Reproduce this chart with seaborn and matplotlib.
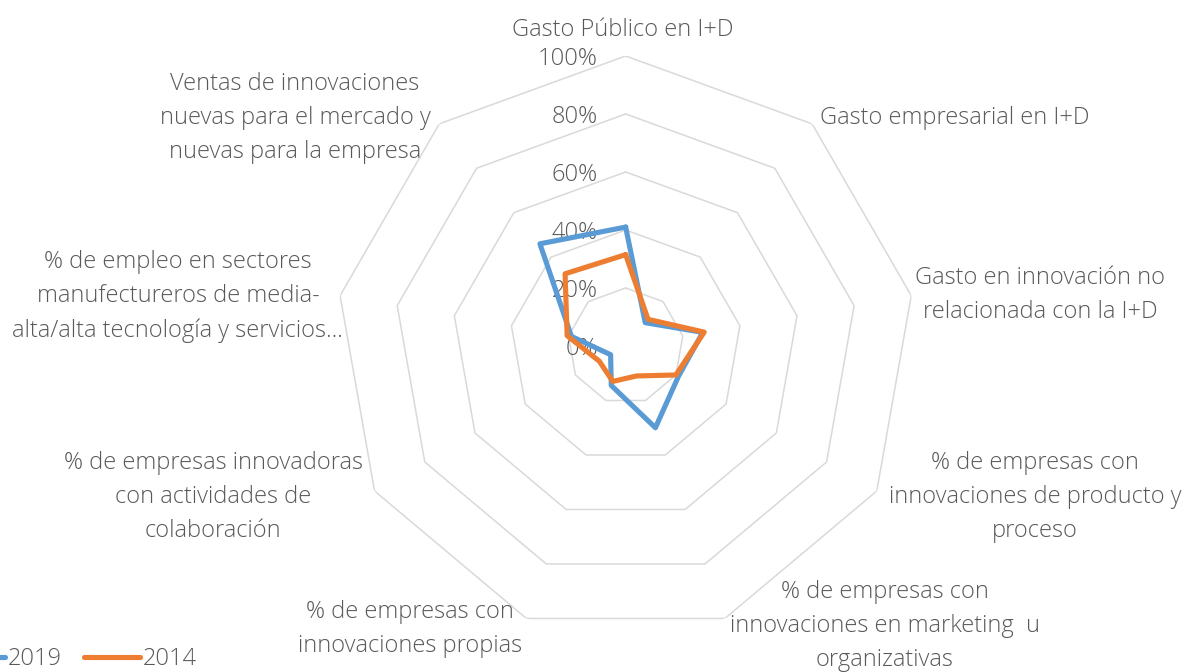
import numpy as np
import pandas as pd
import matplotlib
matplotlib.use("Agg")
import matplotlib.pyplot as plt
from matplotlib.lines import Line2D
import seaborn as sns

# Indicator names (one per radar axis, clockwise from the top)
categories = [
    "Gasto Público en I+D",
    "Gasto empresarial en I+D",
    "Gasto en innovación no\nrelacionada con la I+D",
    "% de empresas con\ninnovaciones de producto y\nproceso",
    "% de empresas con\ninnovaciones en marketing  u\norganizativas",
    "% de empresas con\ninnovaciones propias",
    "% de empresas innovadoras\ncon actividades de\ncolaboración",
    "% de empleo en sectores\nmanufectureros de media-\nalta/alta tecnología y servicios…",
    "Ventas de innovaciones\nnuevas para el mercado y\nnuevas para la empresa",
]

# Values in percent
values_2019 = [41, 10.5, 27, 21, 30, 14.5, 6, 19, 46]
values_2014 = [31.5, 12, 27.5, 20, 11, 13, 10.5, 20.5, 32.5]

series_names = ["2019", "2014"]
series_colors = ["#5B9BD5", "#ED7D31"]

ring_levels = [20, 40, 60, 80, 100]
ring_labels = ["0%", "20%", "40%", "60%", "80%", "100%"]

sns.set_theme(style="white")
plt.rcParams["font.family"] = ["Open Sans", "DejaVu Sans"]
TEXT = "#595959"
FONT_W = "light"
FS = 17

n = len(categories)
theta = np.linspace(0, 2 * np.pi, n, endpoint=False)
theta_closed = np.append(theta, theta[0])

rows = []
for name, vals in zip(series_names, [values_2019, values_2014]):
    closed = list(vals) + [vals[0]]
    for t, v in zip(theta_closed, closed):
        rows.append({"theta": t, "value": v, "serie": name})
df = pd.DataFrame(rows)

fig = plt.figure(figsize=(11.87, 6.72), dpi=100)
ax = fig.add_axes([0.2828, 0.0536, 0.4886, 0.8631], projection="polar")
ax.set_theta_offset(np.pi / 2)
ax.set_theta_direction(-1)
ax.set_ylim(0, 100)
ax.grid(False)
ax.spines["polar"].set_visible(False)
ax.set_xticks([])
ax.set_yticks([])
ax.set_facecolor("white")

# Polygonal gridlines
for lvl in ring_levels:
    ax.plot(theta_closed, [lvl] * len(theta_closed), color="#D9D9D9",
            lw=1.1, zorder=1)

sns.lineplot(data=df, x="theta", y="value", hue="serie", sort=False,
             estimator=None, palette=dict(zip(series_names, series_colors)),
             linewidth=3.7, legend=False, ax=ax, zorder=3)
ax.set_xlabel("")
ax.set_ylabel("")

# Radial value labels along the vertical axis
for lvl, lab in zip([0] + ring_levels, ring_labels):
    ax.annotate(lab, xy=(0, lvl), xytext=(-20, -2.5), textcoords="offset points",
                ha="right", va="center", fontsize=FS, color=TEXT,
                fontweight=FONT_W, zorder=2)

# Category labels (axes-fraction positions)
label_pos = [
    (0.4953, 1.045), (1.0674, 0.893), (1.2150, 0.588),
    (1.2057, 0.240), (0.9470, 0.017), (0.1280, 0.012),
    (-0.2112, 0.240), (-0.2720, 0.585), (-0.0702, 0.893),
]
for lab, (x, y) in zip(categories, label_pos):
    ax.text(x, y, lab, transform=ax.transAxes, ha="center", va="center",
            multialignment="center", fontsize=FS, color=TEXT,
            fontweight=FONT_W, linespacing=1.55, clip_on=False)

handles = [Line2D([0], [0], color=c, lw=3.7, solid_capstyle="round")
           for c in series_colors]
fig.legend(handles, series_names, loc="center left",
           bbox_to_anchor=(-0.043, 0.019), ncol=2, frameon=False,
           handlelength=2.37, handletextpad=0.13,
           columnspacing=0.93, borderpad=0, borderaxespad=0,
           labelcolor=TEXT, prop={"weight": FONT_W, "size": FS})

fig.savefig("out.png", dpi=100, facecolor="white")
